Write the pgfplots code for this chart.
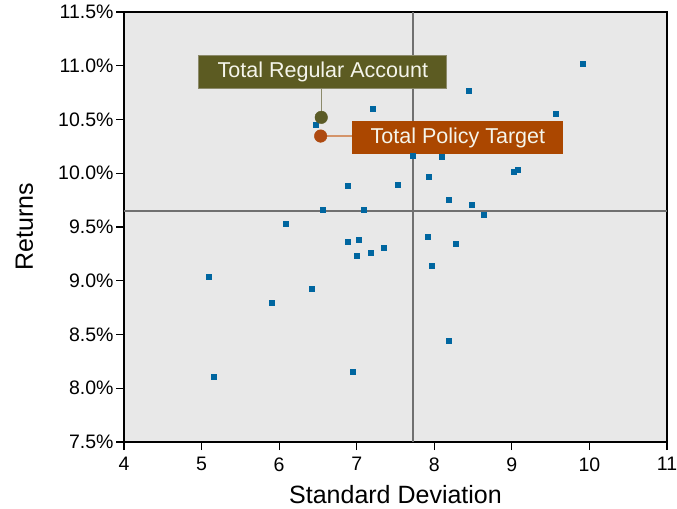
\documentclass[border=0pt]{standalone}
\usepackage{pgfplots}
\pgfplotsset{compat=1.18}
\usepackage{fontspec}
\setmainfont{Liberation Sans}
\definecolor{bgc}{RGB}{232,232,232}
\definecolor{ptc}{RGB}{0,102,160}
\definecolor{olivebox}{RGB}{92,91,34}
\definecolor{olivecirc}{RGB}{91,91,39}
\definecolor{olivecon}{RGB}{140,138,107}
\definecolor{orangebox}{RGB}{171,71,0}
\definecolor{orangecirc}{RGB}{174,74,16}
\definecolor{orangecon}{RGB}{212,148,106}
\definecolor{refc}{RGB}{112,112,112}
\definecolor{txtc}{RGB}{245,245,235}
\begin{document}
\begin{tikzpicture}
\begin{axis}[
  name=ax,
  width=543bp, height=430bp, scale only axis,
  xmin=4, xmax=11, ymin=7.5, ymax=11.5,
  xtick={4,5,...,11},
  ytick={7.5,8,8.5,9,9.5,10,10.5,11,11.5},
  axis background/.style={fill=bgc},
  axis line style={black, line width=1.4bp},
  tick style={black, line width=1.2bp},
  tick align=outside, major tick length=8bp,
  xtick pos=bottom, ytick pos=left,
  /pgf/number format/assume math mode=true,
  ticklabel style={font=\fontsize{19.5bp}{23bp}\selectfont},
  xticklabel style={yshift=-4bp},
  yticklabel style={xshift=1bp},
  yticklabel={\pgfmathprintnumber[fixed,fixed zerofill,precision=1]{\tick}\%},
  xlabel={Standard Deviation},
  ylabel={Returns},
  label style={font=\fontsize{25bp}{30bp}\selectfont},
  xlabel style={at={(axis description cs:0.5,-0.1419)}, anchor=base},
  ylabel style={at={(axis description cs:-0.1676,0.5)}, anchor=base},
  clip=false,
]
\addplot[refc, line width=1.5bp] coordinates {(7.724,7.5) (7.724,11.5)};
\addplot[refc, line width=1.5bp] coordinates {(4,9.651) (11,9.651)};
\addplot[only marks, mark=square*, mark size=2.5bp, color=ptc] coordinates {
(6.465,10.455) (7.20,10.604) (6.89,9.881) (7.53,9.890) (6.556,9.664)
(7.084,9.664) (6.079,9.534) (9.919,11.023) (8.45,10.772) (9.571,10.558)
(7.716,10.167) (8.10,10.157) (9.03,10.018) (9.08,10.036) (7.934,9.971)
(8.19,9.757) (8.478,9.71) (8.634,9.617) (6.878,9.366) (7.02,9.385)
(6.994,9.236) (7.174,9.263) (7.342,9.31) (5.086,9.04) (6.414,8.928)
(5.898,8.798) (5.151,8.109) (6.942,8.155) (7.909,9.412) (8.27,9.347)
(7.973,9.142) (8.18,8.444)
};
\addplot[olivecon, line width=1.5bp] coordinates {(6.543,10.52) (6.543,10.80)};
\addplot[orangecon, line width=1.5bp] coordinates {(6.535,10.346) (6.95,10.346)};
\addplot[only marks, mark=*, mark size=6.3bp, color=olivecirc] coordinates {(6.543,10.52)};
\addplot[only marks, mark=*, mark size=6.3bp, color=orangecirc] coordinates {(6.535,10.346)};
\node[fill=olivebox, draw=olivecon, line width=1bp, text=txtc, minimum width=248bp, minimum height=33bp, inner sep=0pt,
  font=\fontsize{21.5bp}{26bp}\selectfont] at (axis cs:6.564,10.945) {Total Regular Account};
\node[fill=orangebox, text=txtc, minimum width=211bp, minimum height=33bp, inner sep=0pt,
  font=\fontsize{21.5bp}{26bp}\selectfont] at (axis cs:8.304,10.331) {Total Policy Target};
\end{axis}
\pgfresetboundingbox
\path ([xshift=-124bp,yshift=-66bp]ax.south west) rectangle ([xshift=10bp,yshift=12bp]ax.north east);
\end{tikzpicture}
\end{document}
